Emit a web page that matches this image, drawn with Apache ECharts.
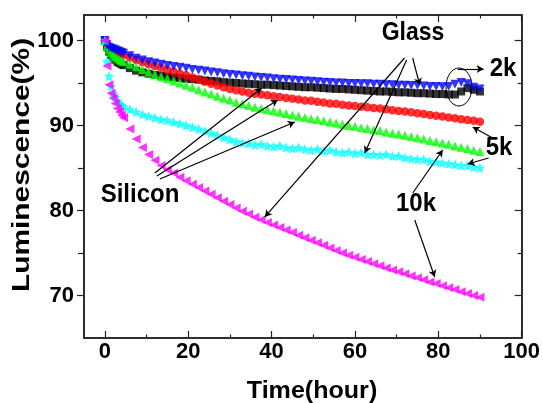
<!DOCTYPE html>
<html><head><meta charset="utf-8">
<script src="https://cdn.jsdelivr.net/npm/echarts@6/dist/echarts.min.js"></script>
<style>html,body{margin:0;padding:0;background:#fff}#c{width:543px;height:403px}</style>
</head><body><div id="c"></div>
<script>
const times = [0,0.5,1,1.5,2,2.5,3,3.5,4,4.5,6,7.5,9,10.5,12,13.5,15,16.5,18,19.5,21,22.5,24,25.5,27,28.5,30,31.5,33,34.5,36,37.5,39,40.5,42,43.5,45,46.5,48,49.5,51,52.5,54,55.5,57,58.5,60,61.5,63,64.5,66,67.5,69,70.5,72,73.5,75,76.5,78,79.5,81,82.5,84,85.5,87,88.5,90];

const blackSq = [100,99.2,98.7,98.3,98.0,97.75,97.5,97.35,97.2,97.1,96.75,96.45,96.25,96.1,95.95,95.85,95.75,95.65,95.6,95.5,95.45,95.4,95.3,95.25,95.2,95.1,95.05,95.0,94.95,94.9,94.85,94.8,94.8,94.75,94.7,94.65,94.6,94.55,94.5,94.5,94.45,94.4,94.35,94.3,94.3,94.25,94.2,94.15,94.1,94.05,94.0,94.0,93.95,93.9,93.9,93.85,93.8,93.8,93.75,93.7,93.7,93.65,93.65,94.0,94.4,94.2,94.0];
const redCircle = [100,99.6,99.3,99.1,98.95,98.8,98.65,98.5,98.4,98.3,98.0,97.7,97.45,97.2,97.0,96.8,96.55,96.35,96.1,95.9,95.65,95.4,95.15,94.9,94.7,94.5,94.3,94.15,94.0,93.85,93.75,93.65,93.55,93.45,93.35,93.25,93.15,93.05,92.95,92.9,92.8,92.7,92.6,92.55,92.45,92.35,92.3,92.2,92.15,92.05,92.0,91.9,91.8,91.7,91.65,91.55,91.45,91.35,91.25,91.15,91.05,90.95,90.85,90.75,90.65,90.55,90.45];
const greenTri = [100,99.3,98.9,98.6,98.3,98.1,97.9,97.75,97.6,97.5,97.2,96.9,96.6,96.3,96.0,95.75,95.5,95.25,95.0,94.75,94.5,94.2,93.95,93.7,93.45,93.2,93.0,92.75,92.55,92.35,92.15,92.0,91.85,91.7,91.55,91.4,91.25,91.1,90.95,90.8,90.7,90.55,90.4,90.3,90.15,90.0,89.9,89.75,89.65,89.5,89.4,89.25,89.1,89.0,88.85,88.7,88.55,88.4,88.25,88.1,87.95,87.8,87.6,87.45,87.3,87.1,86.95];
const blueTri = [100,99.5,99.2,99.1,99.0,98.9,98.8,98.7,98.6,98.5,98.2,97.9,97.7,97.5,97.35,97.2,97.05,96.95,96.85,96.75,96.6,96.5,96.4,96.3,96.2,96.1,96.0,95.95,95.85,95.8,95.7,95.65,95.6,95.5,95.45,95.4,95.35,95.3,95.25,95.2,95.15,95.1,95.05,95.0,95.0,94.95,94.95,94.9,94.9,94.85,94.85,94.8,94.8,94.75,94.75,94.7,94.7,94.65,94.6,94.6,94.55,94.6,94.85,95.05,94.9,94.5,94.3];
const cyanStar = [100,97.5,95.8,94.6,93.8,93.3,92.9,92.6,92.4,92.2,91.9,91.6,91.3,91.1,90.9,90.7,90.6,90.4,90.2,90.0,89.8,89.6,89.35,89.1,88.85,88.6,88.35,88.1,87.95,87.9,87.7,87.8,87.6,87.5,87.6,87.4,87.3,87.4,87.2,87.1,87.2,87.0,87.1,86.9,86.8,86.9,86.7,86.8,86.6,86.6,86.5,86.6,86.4,86.4,86.2,86.1,86.0,86.0,85.8,85.7,85.6,85.5,85.4,85.3,85.3,85.1,85.0];
const magentaTri = [100,97.0,94.8,93.8,93.2,92.6,92.0,91.6,91.2,90.9,89.6,88.4,87.4,86.6,85.9,85.3,84.8,84.4,83.9,83.5,83.1,82.7,82.3,81.9,81.5,81.1,80.7,80.3,79.9,79.6,79.2,78.9,78.6,78.3,78.0,77.7,77.4,77.1,76.8,76.5,76.2,75.9,75.6,75.3,75.0,74.75,74.5,74.25,74.0,73.75,73.5,73.25,73.0,72.8,72.55,72.3,72.1,71.85,71.6,71.4,71.15,70.9,70.7,70.45,70.25,70.0,69.8];

const xMajor = [0,20,40,60,80,100];
const xMinor = [10,30,50,70,90];
const yMajor = [70,80,90,100];
const yMinor = [75,85,95];

// annotation arrows in data coordinates: [fromT, fromV, toT, toV]
const arrows = [
  [73.86,97.94,75.55,94.76],
  [72.4,97.71,62.36,86.76],
  [71.9,97.94,38.38,79.24],
  [12.01,84.41,37.67,94.41],
  [12.49,84.06,41.5,93.0],
  [13.21,83.71,45.57,90.41],
  [84.65,96.65,90.88,96.65],
  [93.05,88.53,88.25,89.82],
  [92.09,86.18,87.05,85.47],
  [73.87,82.06,81.06,87.12],
  [74.35,78.88,79.15,72.18]
];

const FONT = '"Liberation Sans", Arial, sans-serif';
const frame = '#222';
function pair(arr){ return times.map((t,i)=>[t,arr[i]]); }

const chart = echarts.init(document.getElementById('c'), null, {renderer:'canvas'});
const xBase = {type:'value', min:-5, max:100, splitLine:{show:false}, axisLine:{show:true, onZero:false, lineStyle:{color:frame,width:1.5}}};
const yBase = {type:'value', min:65, max:103, splitLine:{show:false}, axisLine:{show:true, onZero:false, lineStyle:{color:frame,width:1.5}}};
function ax(base, pos, vals, len, inside, label){
  return Object.assign({}, base, {
    position: pos,
    axisTick:{show:true, inside:inside, length:len, customValues:vals, lineStyle:{color:frame,width:1.2}},
    axisLabel: label ? {show:true, customValues:vals, fontFamily:FONT, fontWeight:'bold', fontSize:22, color:'#000', margin: label.margin} : {show:false}
  });
}

const markerSeries = [
  {name:'black', data:blackSq, color:'#000000', symbol:'rect', size:8, rot:0},
  {name:'red', data:redCircle, color:'#ff0000', symbol:'circle', size:8.5, rot:0},
  {name:'green', data:greenTri, color:'#00ff00', symbol:'triangle', size:9, rot:0},
  {name:'blue', data:blueTri, color:'#0000ff', symbol:'triangle', size:9, rot:180},
  {name:'cyan', data:cyanStar, color:'#00ffff', symbol:'path://M0,-10L2.9,-4L9.5,-3.1L4.7,1.5L5.9,8.1L0,5L-5.9,8.1L-4.7,1.5L-9.5,-3.1L-2.9,-4Z', size:10, rot:0},
  {name:'magenta', data:magentaTri, color:'#ff00ff', symbol:'triangle', size:9, rot:90}
].map(s=>({
  type:'scatter', name:s.name, xAxisIndex:0, yAxisIndex:0,
  data: pair(s.data), symbol:s.symbol, symbolSize:s.size, symbolRotate:s.rot,
  itemStyle:{color:s.color}, silent:true, animation:false
}));

const arrowSeries = {
  type:'line', xAxisIndex:0, yAxisIndex:0, data:[], silent:true, animation:false,
  markLine:{
    silent:true, animation:false, symbol:['none','arrow'], symbolSize:[6,7],
    lineStyle:{color:'#000', width:1.2, type:'solid'}, label:{show:false},
    data: arrows.map(a=>[{coord:[a[0],a[1]]},{coord:[a[2],a[3]]}])
  }
};

function txt(t, x, y, size, extra){
  return Object.assign({type:'text', x:x, y:y, silent:true,
    style:{text:t, font:'bold '+size+'px '+FONT, fill:'#000', align:'center', verticalAlign:'middle'}}, extra||{});
}

chart.setOption({
  animation:false,
  backgroundColor:'#fff',
  grid:{left:84, right:21, top:15, bottom:65, containLabel:false},
  xAxis:[
    ax(xBase,'bottom',xMajor,7,true,{margin:3}),
    ax(xBase,'bottom',xMinor,3.5,true,null),
    ax(xBase,'top',xMajor,7,true,null),
    ax(xBase,'top',xMinor,3.5,true,null)
  ],
  yAxis:[
    ax(yBase,'left',yMajor,7,false,{margin:10}),
    ax(yBase,'left',yMinor,6,false,null),
    ax(yBase,'right',yMajor,7,true,null),
    ax(yBase,'right',yMinor,4,true,null)
  ],
  series: markerSeries.concat([arrowSeries]),
  graphic:[
    txt('Glass',413,33,23,{scaleY:1.1}),
    txt('2k',503,69,24,{scaleY:1.1}),
    txt('5k',499,148,24,{scaleY:1.1}),
    txt('10k',416,204,24,{scaleY:1.1}),
    txt('Silicon',140,195,24,{scaleY:1.1}),
    txt('Time(hour)',312,392,23,{scaleX:1.09}),
    txt('Luminescence(%)',23,165,23,{rotation:Math.PI/2, scaleX:1.3}),
    {type:'ellipse', silent:true, shape:{cx:459, cy:87, rx:13, ry:19}, style:{fill:'none', stroke:'#000', lineWidth:1}}
  ]
});
</script></body></html>
